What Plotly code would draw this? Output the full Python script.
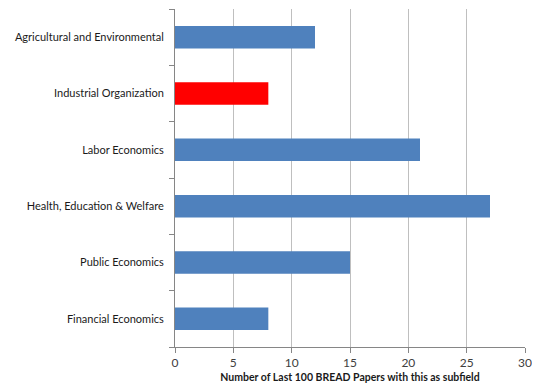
import plotly.graph_objects as go

categories = ["Financial Economics", "Public Economics", "Health, Education & Welfare",
              "Labor Economics", "Industrial Organization", "Agricultural and Environmental"]
values = [8, 15, 27, 21, 8, 12]
colors = ["#4F81BD", "#4F81BD", "#4F81BD", "#4F81BD", "#FF0000", "#4F81BD"]
x_ticks = [0, 5, 10, 15, 20, 25, 30]

fig = go.Figure(go.Bar(
    y=categories, x=values, orientation="h",
    marker=dict(color=colors, line=dict(width=0)),
    width=0.4,
))

fig.update_layout(
    width=532, height=384,
    margin=dict(l=167, r=15, t=1, b=45, autoexpand=False),
    paper_bgcolor="white", plot_bgcolor="white",
    font=dict(family="Lato, Open Sans, sans-serif", size=12, color="#1a1a1a"),
    showlegend=False,
    xaxis=dict(
        range=[0, 30], tickvals=x_ticks, showgrid=True, gridcolor="#BFBFBF", gridwidth=1,
        zeroline=False, showline=True, linecolor="#868686", ticks="outside",
        tickcolor="#868686", ticklen=5, tickfont=dict(size=12, color="#404040"),
        automargin=False,
        title=dict(text="<b>Number of Last 100 BREAD Papers with this as subfield</b>",
                   font=dict(size=10.5, color="#1a1a1a"), standoff=4),
    ),
    yaxis=dict(
        showline=True, linecolor="#868686", ticks="", showgrid=False, automargin=False,
        tickfont=dict(size=11, color="#1a1a1a"), ticklabelstandoff=8,
    ),
)

# category boundary tick marks
fig.update_yaxes(minor=dict(ticks="outside", tickvals=[i + 0.5 for i in range(-1, 6)],
                            ticklen=5, tickcolor="#868686", showgrid=False))

fig.write_html("out.html")
